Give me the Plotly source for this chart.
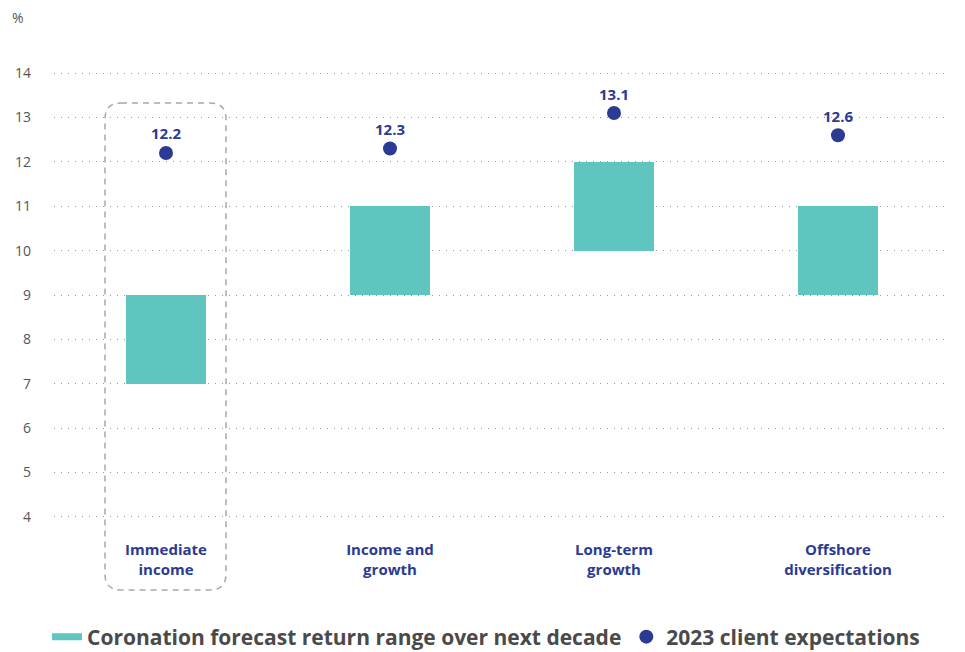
import plotly.graph_objects as go

categories = ["Immediate<br>income", "Income and<br>growth", "Long-term<br>growth", "Offshore<br>diversification"]
range_low = [7, 9, 10, 9]
range_high = [9, 11, 12, 11]
expectations = [12.2, 12.3, 13.1, 12.6]
y_ticks = [4, 5, 6, 7, 8, 9, 10, 11, 12, 13, 14]

TEAL = "#5EC6BE"
BLUE = "#2B3A92"
GREY_TXT = "#555555"
FONT = "Open Sans"

W, H = 965, 652
ML, MR, MT, MB = 54, 15, 70, 132
PW, PH = W - ML - MR, H - MT - MB

fig = go.Figure()

fig.add_trace(go.Bar(
    x=categories,
    y=[h - l for h, l in zip(range_high, range_low)],
    base=range_low,
    marker=dict(color=TEAL, line=dict(width=0)),
    width=0.357,
    showlegend=False,
    hoverinfo="skip",
))
fig.add_trace(go.Scatter(
    x=[None], y=[None], mode="lines",
    line=dict(color=TEAL, width=7),
    name="Coronation forecast return range over next decade",
))
fig.add_trace(go.Scatter(
    x=categories, y=expectations,
    mode="markers+text",
    marker=dict(color=BLUE, size=14),
    text=[f"{v:.1f}" for v in expectations],
    textposition="top center",
    textfont=dict(family=FONT, size=15, color=BLUE, weight="bold"),
    name="2023 client expectations",
))

# dashed rounded highlight box around first category (pixel-derived paper coords)
def px_x(p):
    return (p - ML) / PW

def px_y(p):
    return (H - MB - p) / PH

x0p, x1p, y0p, y1p, r = 105, 226, 103, 590, 16
path = (
    f"M {px_x(x0p + r)},{px_y(y0p)} L {px_x(x1p - r)},{px_y(y0p)} "
    f"Q {px_x(x1p)},{px_y(y0p)} {px_x(x1p)},{px_y(y0p + r)} "
    f"L {px_x(x1p)},{px_y(y1p - r)} "
    f"Q {px_x(x1p)},{px_y(y1p)} {px_x(x1p - r)},{px_y(y1p)} "
    f"L {px_x(x0p + r)},{px_y(y1p)} "
    f"Q {px_x(x0p)},{px_y(y1p)} {px_x(x0p)},{px_y(y1p - r)} "
    f"L {px_x(x0p)},{px_y(y0p + r)} "
    f"Q {px_x(x0p)},{px_y(y0p)} {px_x(x0p + r)},{px_y(y0p)} Z"
)
fig.add_shape(type="path", path=path, xref="paper", yref="paper",
              line=dict(color="#A8A8A8", width=1.5, dash="6px,5px"), layer="below")

fig.add_annotation(text="%", xref="paper", yref="paper",
                   x=px_x(18), y=px_y(17), xanchor="center", yanchor="middle",
                   showarrow=False, font=dict(family=FONT, size=14, color=GREY_TXT))

fig.update_layout(
    width=W, height=H,
    margin=dict(l=ML, r=MR, t=MT, b=MB, autoexpand=False),
    paper_bgcolor="white", plot_bgcolor="white",
    font=dict(family=FONT, color=GREY_TXT),
    xaxis=dict(
        type="category", range=[-0.5, 3.5],
        showgrid=False, zeroline=False, showline=False, ticks="",
        tickfont=dict(family=FONT, size=15, color=BLUE, weight="bold"),
        ticklabelstandoff=19, automargin=False,
    ),
    yaxis=dict(
        range=[3.93, 14.07], tickvals=y_ticks,
        showgrid=True, gridcolor="#9A9A9A", gridwidth=1, griddash="1px,6px",
        zeroline=False, showline=False, ticks="",
        tickfont=dict(family=FONT, size=14, color=GREY_TXT),
        ticklabelstandoff=22, automargin=False,
    ),
    legend=dict(
        orientation="h", xref="container", x=47 / W, xanchor="left",
        yref="container", y=(H - 637) / H, yanchor="middle",
        font=dict(family=FONT, size=21, color="#4A4A4A", weight="bold"),
        itemwidth=30, traceorder="normal",
    ),
    bargap=0,
)

fig.write_html("out.html")
